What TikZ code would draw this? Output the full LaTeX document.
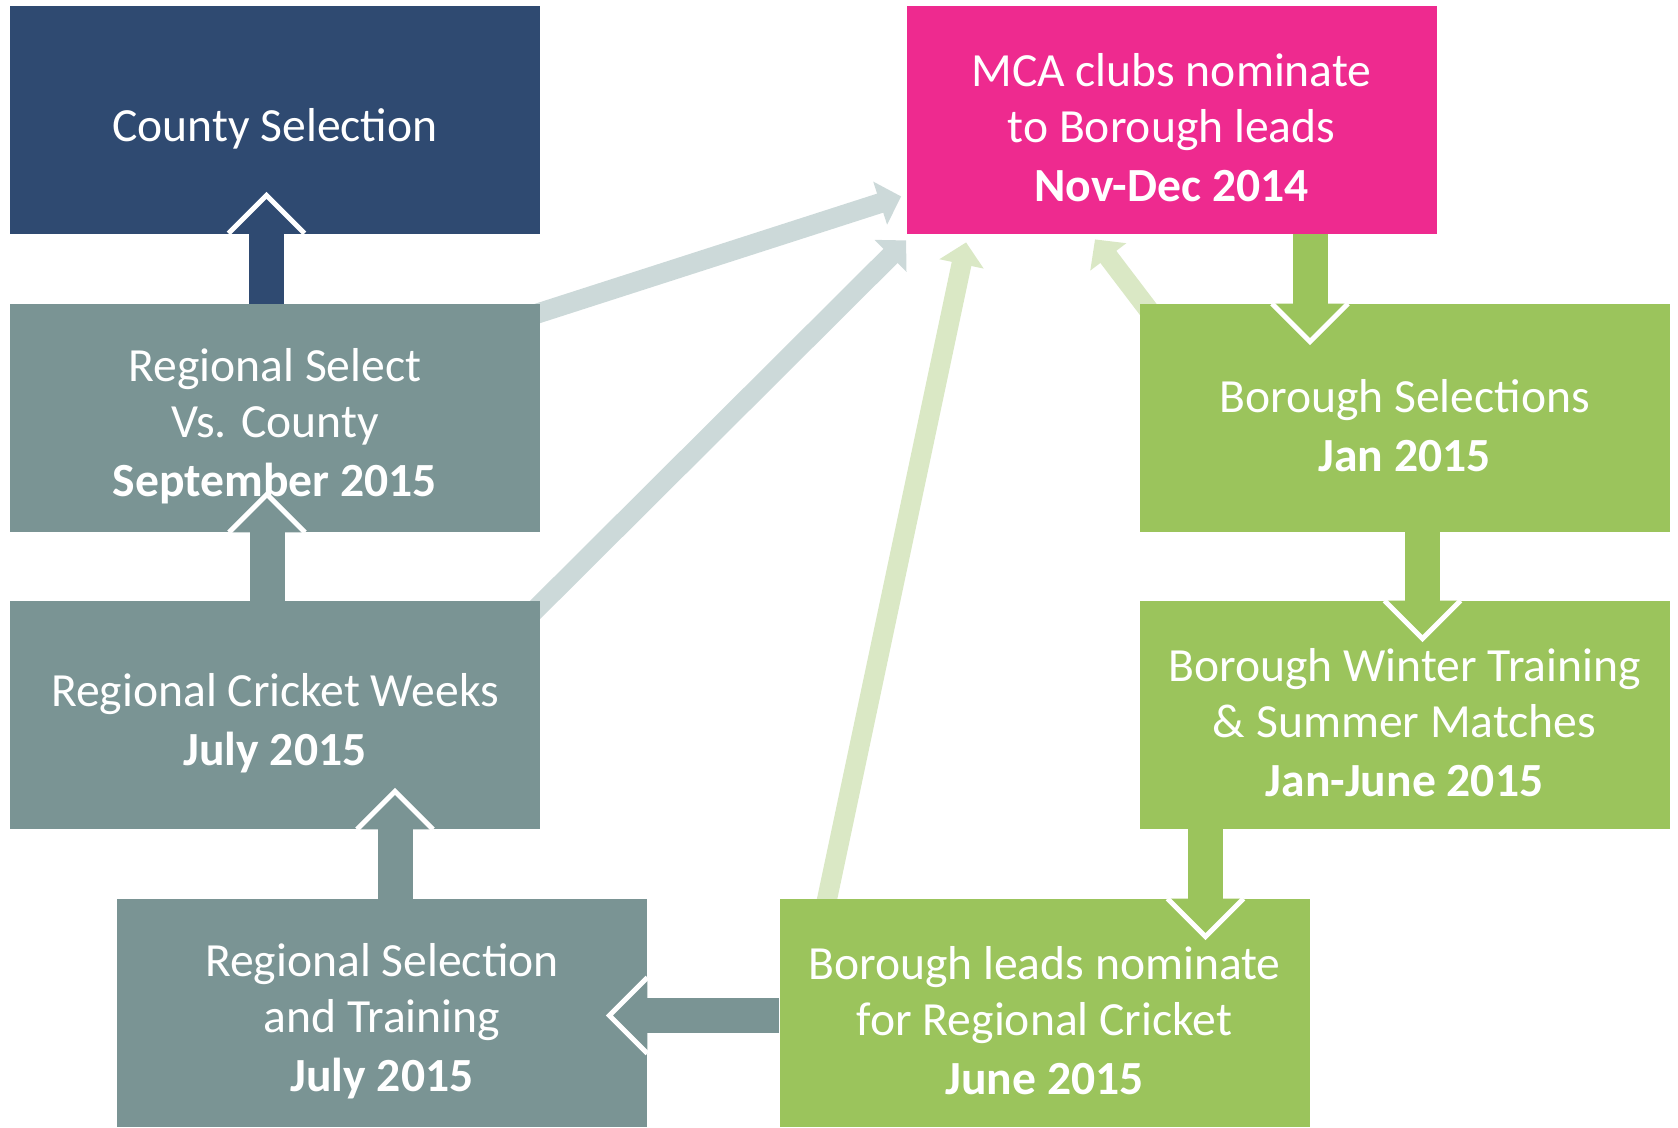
\documentclass[tikz,border=0pt]{standalone}
\usepackage{fontspec}
\setmainfont{Carlito}
\usetikzlibrary{arrows.meta,calc,backgrounds}
\definecolor{countyblue}{HTML}{2F4A71}
\definecolor{regiongray}{HTML}{7A9494}
\definecolor{mcapink}{HTML}{EE2A8F}
\definecolor{boroughgreen}{HTML}{9BC45C}
\definecolor{paleblue}{HTML}{CCD9D9}
\definecolor{palegreen}{HTML}{DAE8C5}
\newcommand{\stagegap}{\rule{0pt}{24.3pt}}
\newcommand{\stagehead}[3]{%
	\begin{scope}[shift={(#2)},rotate=#3]
		\fill[#1] (0,0) -- (-19pt,19pt) -- (-19pt,-19pt) -- cycle;
		\draw[white,line width=2.5pt,line join=miter] (-19pt,19pt) -- (0,0) -- (-19pt,-19pt);
	\end{scope}}
\begin{document}
\begin{tikzpicture}[stage/.style={minimum width=265pt,minimum height=114pt,inner sep=0pt,text=white,align=center,font=\fontsize{23.8}{28}\selectfont},
	faint/.style={line width=10pt,-{Triangle[length=11pt,width=22pt]}},
	shaft/.style={line width=17.5pt}]
	\useasboundingbox (0,0) rectangle (839pt,-564pt);
	% boxes
	\path (137.5pt,-60pt) node[stage,fill=countyblue] (county) {\rule{0pt}{25.5pt}County Selection};
	\path (137.5pt,-209pt) node[stage,fill=regiongray] (rsel) {\stagegap Regional Select\\Vs. County\\[1.5pt]\textbf{September 2015}};
	\path (137.5pt,-357.5pt) node[stage,fill=regiongray] (rweek) {\stagegap Regional Cricket Weeks\\[1.5pt]\textbf{July 2015}};
	\path (191pt,-506.5pt) node[stage,fill=regiongray] (rtrain) {\stagegap Regional Selection\\and Training\\[1.5pt]\textbf{July 2015}};
	\path (585.75pt,-60pt) node[stage,fill=mcapink] (mca) {\stagegap MCA clubs nominate\\to Borough leads\\[1.5pt]\textbf{Nov-Dec 2014}};
	\path (702.25pt,-209pt) node[stage,fill=boroughgreen] (bsel) {\stagegap Borough Selections\\[1.5pt]\textbf{Jan 2015}};
	\path (702.25pt,-357.5pt) node[stage,fill=boroughgreen] (bwin) {\stagegap Borough Winter Training\\\& Summer Matches\\[1.5pt]\textbf{Jan-June 2015}};
	\path (522.25pt,-506.5pt) node[stage,fill=boroughgreen] (blead) {\stagegap Borough leads nominate\\for Regional Cricket\\[1.5pt]\textbf{June 2015}};
	% back arrows to the clubs
	\begin{scope}[on background layer]
		\draw[faint,paleblue] ($(rsel.north east)+(-4.75pt,-6pt)$) -- ($(mca.south west)+(-2.5pt,19pt)$);
		\draw[faint,paleblue] ($(rweek.north east)+(-7.5pt,-9.5pt)$) -- ($(mca.south west)+(0,-3pt)$);
		\draw[faint,palegreen] ($(blead.north)+(-110.25pt,-7.5pt)$) -- ($(mca.south west)+(30pt,-4pt)$);
		\draw[faint,palegreen] ($(bsel.north west)+(13pt,-14pt)$) -- ($(mca.south)+(-38.25pt,-2.5pt)$);
	\end{scope}
	% stage arrows
	\coordinate (a1) at ($(rsel.north)+(-4.25pt,0)$);
	\coordinate (a2) at ($(rweek.north)+(-4pt,0)$);
	\coordinate (a3) at ($(rtrain.north)+(6.5pt,0)$);
	\coordinate (a4) at ($(rtrain.east)+(0,-1.25pt)$);
	\coordinate (a5) at ($(mca.south)+(69.25pt,0)$);
	\coordinate (a6) at ($(bsel.south)+(9pt,0)$);
	\coordinate (a7) at ($(blead.north)+(80.5pt,0)$);
	\draw[shaft,countyblue] (a1) -- (a1 |- county.south);
	\draw[shaft,regiongray] (a2) -- (a2 |- rsel.south);
	\draw[shaft,regiongray] (a3) -- (a3 |- rweek.south);
	\draw[shaft,regiongray] (a4 -| blead.west) -- (a4);
	\draw[shaft,boroughgreen] (a5) -- (a5 |- bsel.north);
	\draw[shaft,boroughgreen] (a6) -- (a6 |- bwin.north);
	\draw[shaft,boroughgreen] (a7 |- bwin.south) -- (a7);
	\stagehead{countyblue}{$(a1 |- county.south)+(0,19.5pt)$}{90}
	\stagehead{regiongray}{$(a2 |- rsel.south)+(0,19pt)$}{90}
	\stagehead{regiongray}{$(a3 |- rweek.south)+(0,19pt)$}{90}
	\stagehead{regiongray}{$(a4)+(-19pt,0)$}{180}
	\stagehead{boroughgreen}{$(a5 |- bsel.north)+(0,-19pt)$}{-90}
	\stagehead{boroughgreen}{$(a6 |- bwin.north)+(0,-19pt)$}{-90}
	\stagehead{boroughgreen}{$(a7)+(0,-19pt)$}{-90}
\end{tikzpicture}
\end{document}
